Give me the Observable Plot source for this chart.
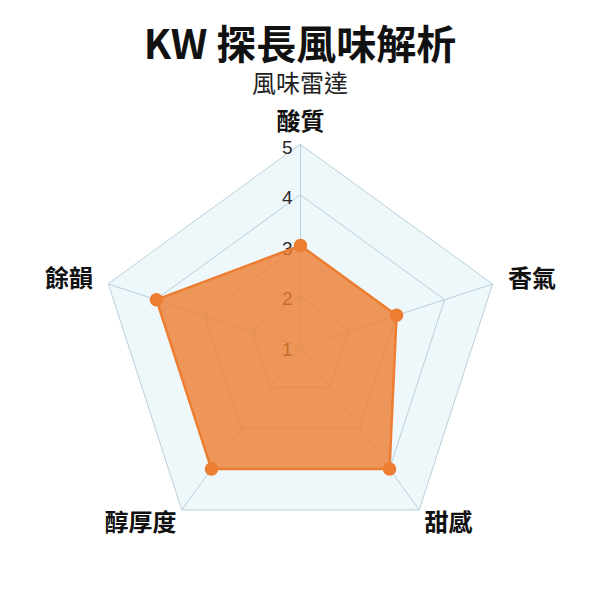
<!DOCTYPE html>
<html>
<head>
<meta charset="utf-8">
<script src="https://cdn.jsdelivr.net/npm/d3@7"></script>
<script src="https://cdn.jsdelivr.net/npm/@observablehq/plot@0.6"></script>
<style>
  body { margin: 0; background: #fff; font-family: "Noto Sans CJK TC", "Noto Sans", sans-serif; }
  #title { position: absolute; left: 0; width: 600px; top: 22px; text-align: center; font-size: 40px; font-weight: bold; line-height: 40px; color: #111; }
  #subtitle { position: absolute; left: 0; width: 600px; top: 69px; text-align: center; font-size: 24px; line-height: 26px; color: #222; }
  #chart { position: absolute; left: 0; top: 100px; }
</style>
</head>
<body>
<div id="title">KW 探長風味解析</div>
<div id="subtitle">風味雷達</div>
<div id="chart"></div>
<script>
const categories = ["酸質", "香氣", "甜感", "醇厚度", "餘韻"];
const values = [3, 3, 4, 4, 4];
const ticks = [1, 2, 3, 4, 5];
const scaleMin = 1, scaleMax = 5;

const n = categories.length;
const angle = i => (2 * Math.PI * i) / n; // clockwise from top
const rad = v => (v - scaleMin) / (scaleMax - scaleMin);
const px = (i, v) => rad(v) * Math.sin(angle(i));
const py = (i, v) => rad(v) * Math.cos(angle(i));

const R = 202, W = 600, H = 500, cx = 300, cy = 246;

const dataRows = categories.map((c, i) => ({cat: c, i, value: values[i]}));
const outerRows = categories.map((c, i) => ({i, level: scaleMax}));
const gridRows = ticks.filter(t => t > scaleMin).flatMap(t =>
  categories.map((c, i) => ({i, level: t}))
);
const spokeRows = categories.map((c, i) => ({i}));
const tickRows = ticks.map(t => ({t}));
// point-label placement (Chart.js style): distance beyond the outer ring depends on angle
const labelRows = categories.map((c, i) => {
  const s = Math.sin(angle(i)), co = Math.cos(angle(i));
  const k = Math.abs(s) < 0.01 ? 1.11 : co > 0 ? 1.08 : 1.045;
  return {
    cat: c, i,
    lx: k * s, ly: k * co,
    bottom: co < -0.5,
    anchor: Math.abs(s) < 0.01 ? "middle" : s > 0 ? "start" : "end"
  };
});

const labelMark = (anchor, bottom) => Plot.text(
  labelRows.filter(d => d.anchor === anchor && d.bottom === bottom),
  {x: "lx", y: "ly", text: "cat", textAnchor: anchor, dy: bottom ? 6 : 0,
   fontSize: 24, fontWeight: "bold", fill: "#111"}
);

const chart = Plot.plot({
  width: W,
  height: H,
  margin: 0,
  x: {domain: [-cx / R, (W - cx) / R], axis: null},
  y: {domain: [-(H - cy) / R, cy / R], axis: null},
  style: {fontFamily: '"Noto Sans CJK TC", sans-serif', background: "transparent"},
  marks: [
    Plot.line(outerRows, {
      x: d => px(d.i, d.level), y: d => py(d.i, d.level),
      fill: "#eef7fa", stroke: "none", curve: "linear-closed"
    }),
    Plot.line(gridRows, {
      x: d => px(d.i, d.level), y: d => py(d.i, d.level),
      z: "level", stroke: "#b8d0d9", strokeWidth: 1, curve: "linear-closed"
    }),
    Plot.link(spokeRows, {
      x1: d => px(d.i, scaleMin), y1: d => py(d.i, scaleMin),
      x2: d => px(d.i, scaleMax), y2: d => py(d.i, scaleMax),
      stroke: "#b8d0d9", strokeWidth: 1
    }),
    Plot.text(tickRows, {
      x: d => px(0, d.t), y: d => py(0, d.t), text: d => String(d.t),
      textAnchor: "end", dx: -8, dy: 3, fontSize: 19, fill: "#2a2a2a",
      fontFamily: '"Liberation Sans", Arial, sans-serif'
    }),
    Plot.line(dataRows, {
      x: d => px(d.i, d.value), y: d => py(d.i, d.value),
      fill: "#ed7d31", fillOpacity: 0.8, stroke: "#ed7d31", strokeWidth: 2.5,
      curve: "linear-closed"
    }),
    Plot.dot(dataRows, {
      x: d => px(d.i, d.value), y: d => py(d.i, d.value),
      r: 6, fill: "#ed7d31", stroke: "#ed7d31"
    }),
    labelMark("middle", false),
    labelMark("start", false),
    labelMark("end", false),
    labelMark("start", true),
    labelMark("end", true)
  ]
});
document.getElementById("chart").appendChild(chart);
</script>
</body>
</html>
